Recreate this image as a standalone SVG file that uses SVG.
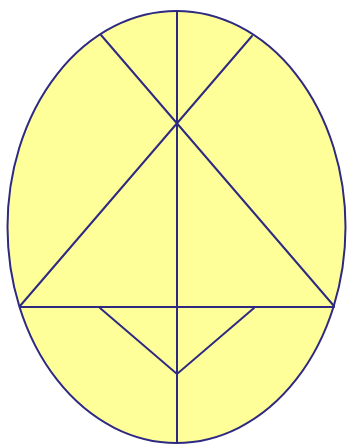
<svg xmlns="http://www.w3.org/2000/svg" width="348" height="446" viewBox="0 0 348 446">
<style>
.s{stroke:#2e2a82;stroke-width:2;fill:none;stroke-linecap:round}
</style>
<rect width="348" height="446" fill="#ffffff"/>
<g id="oval"><ellipse cx="176.5" cy="227" rx="169" ry="216" fill="#ffff99" stroke="#2e2a82" stroke-width="2"/></g>
<g id="lines">
<line class="s" x1="177" y1="11" x2="177" y2="443"/>
<line class="s" x1="101" y1="35" x2="334" y2="306"/>
<line class="s" x1="252" y1="36" x2="20" y2="306"/>
<line class="s" x1="20" y1="307" x2="334" y2="307"/>
<polyline class="s" points="100,308 177,374 254,308"/>
</g>
</svg>
